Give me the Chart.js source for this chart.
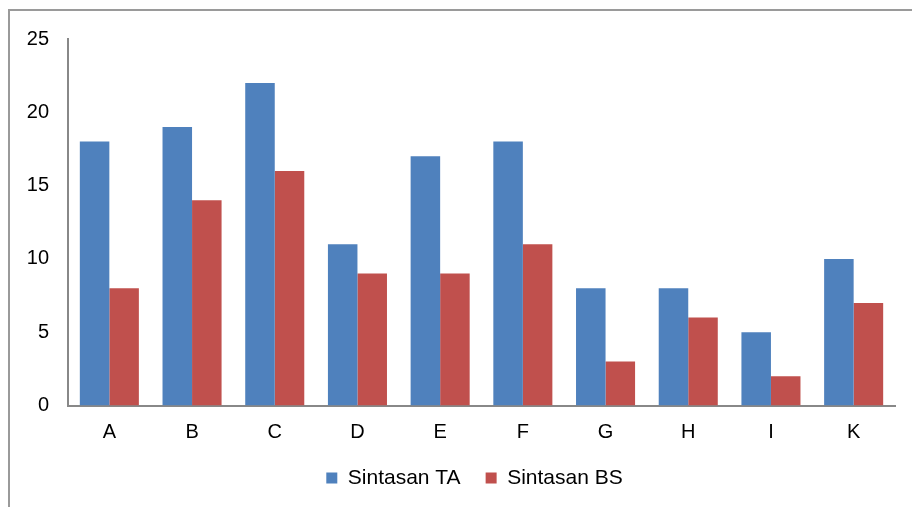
<!DOCTYPE html>
<html>
<head>
<meta charset="utf-8">
<script src="https://cdn.jsdelivr.net/npm/chart.js@4/dist/chart.umd.min.js"></script>
<style>
  html, body { margin: 0; padding: 0; background: #fff; overflow: hidden; }
  #wrap { position: relative; width: 912px; height: 507px; }
  #frame { position: absolute; left: 8px; top: 9px; width: 1000px; height: 600px; border: 2px solid #9a9a9a; box-sizing: border-box; }
  canvas { position: absolute; left: 0; top: 0; }
</style>
</head>
<body>
<div id="wrap">
  <div id="frame"></div>
  <canvas id="c" width="912" height="507"></canvas>
</div>
<script>
const categories = ["A", "B", "C", "D", "E", "F", "G", "H", "I", "K"];
const sintasanTA = [18, 19, 22, 11, 17, 18, 8, 8, 5, 10];
const sintasanBS = [8, 14, 16, 9, 9, 11, 3, 6, 2, 7];
const seriesNames = ["Sintasan TA", "Sintasan BS"];
const yTicks = [0, 5, 10, 15, 20, 25];

const FONT = "'Liberation Sans', Arial, sans-serif";

const legendShift = {
  id: 'legendShift',
  afterLayout(chart) {
    if (chart.legend) { chart.legend.left += 22; chart.legend.right += 22; }
  }
};

new Chart(document.getElementById('c'), {
  type: 'bar',
  data: {
    labels: categories,
    datasets: [
      { label: seriesNames[0], data: sintasanTA, backgroundColor: '#4F81BD', borderWidth: 0 },
      { label: seriesNames[1], data: sintasanBS, backgroundColor: '#C0504D', borderWidth: 0 }
    ]
  },
  plugins: [legendShift],
  options: {
    responsive: false,
    animation: false,
    devicePixelRatio: 1,
    datasets: { bar: { categoryPercentage: 0.714, barPercentage: 1.0 } },
    layout: { padding: { left: 10, right: 17, top: 39, bottom: 8.5 } },
    plugins: {
      legend: {
        position: 'bottom',
        labels: {
          boxWidth: 11, boxHeight: 11, padding: 25,
          color: '#000',
          font: { family: FONT, size: 21 }
        }
      },
      tooltip: { enabled: false }
    },
    scales: {
      x: {
        grid: { display: false, drawTicks: false },
        border: { display: true, color: '#888', width: 2 },
        ticks: { color: '#000', font: { family: FONT, size: 20 }, padding: 15 },
        afterFit: (s) => { s.height = 37; }
      },
      y: {
        min: yTicks[0], max: yTicks[yTicks.length - 1],
        grid: { display: false, drawTicks: false },
        border: { display: true, color: '#888', width: 2 },
        ticks: { stepSize: 5, color: '#000', font: { family: FONT, size: 20 }, padding: 19 },
        afterFit: (s) => { s.width = 58; }
      }
    }
  }
});
</script>
</body>
</html>
